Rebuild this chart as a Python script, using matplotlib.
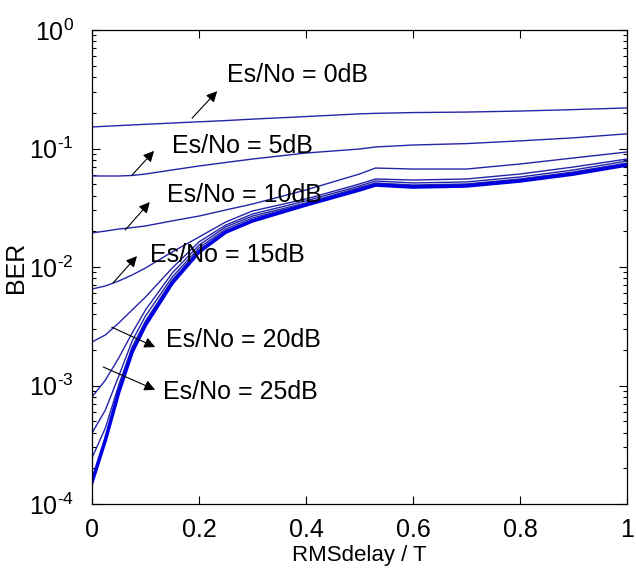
import matplotlib
matplotlib.use("Agg")
import matplotlib.pyplot as plt
from matplotlib.ticker import LogLocator, FixedLocator, FuncFormatter
import math

plt.rcParams['font.family'] = ['Liberation Sans', 'DejaVu Sans']
plt.rcParams['mathtext.fontset'] = 'custom'
plt.rcParams['mathtext.rm'] = 'Liberation Sans'
plt.rcParams['mathtext.it'] = 'Liberation Sans'
plt.rcParams['mathtext.default'] = 'regular'

# RMS delay spread normalised to symbol period
rms_delay = [0, 0.025, 0.05, 0.075, 0.1, 0.15, 0.2, 0.25, 0.3, 0.4, 0.5, 0.53,
             0.6, 0.7, 0.8, 0.9, 1.0]

ber_0db = [0.152, 0.154, 0.156, 0.158, 0.160, 0.164, 0.168, 0.172, 0.177, 0.186,
           0.196, 0.198, 0.201, 0.203, 0.207, 0.213, 0.220]
ber_5db = [0.0586, 0.0586, 0.0586, 0.0592, 0.0609, 0.0659, 0.0712, 0.0762, 0.0815,
           0.0916, 0.0990, 0.103, 0.107, 0.110, 0.116, 0.123, 0.133]
ber_10db = [0.0194, 0.0201, 0.0209, 0.0215, 0.0222, 0.0245, 0.0269, 0.0303, 0.0340,
            0.0447, 0.0609, 0.0684, 0.0671, 0.0671, 0.0740, 0.0832, 0.0934]
ber_15db = [0.00652, 0.00692, 0.00762, 0.00856, 0.00981, 0.0134, 0.0179, 0.0240,
            0.0297, 0.0375, 0.0502, 0.0553, 0.0542, 0.0553, 0.0609, 0.0698, 0.0815]
ber_20db = [0.00233, 0.00267, 0.00337, 0.00434, 0.00558, 0.00981, 0.0163, 0.0226,
            0.0280, 0.0361, 0.0483, 0.0532, 0.0512, 0.0522, 0.0575, 0.0659, 0.0784]
ber_25db = [0.000800, 0.00111, 0.00171, 0.00277, 0.00434, 0.00890, 0.0153, 0.0218,
            0.0269, 0.0347, 0.0469, 0.0512, 0.0492, 0.0502, 0.0553, 0.0634, 0.0754]
ber_30db = [0.000397, 0.000621, 0.00120, 0.00237, 0.00386, 0.00823, 0.0145, 0.0209,
            0.0259, 0.0340, 0.0455, 0.0502, 0.0483, 0.0492, 0.0542, 0.0621, 0.0740]
ber_35db = [0.000245, 0.000438, 0.00101, 0.00211, 0.00350, 0.00777, 0.0139, 0.0201,
            0.0249, 0.0337, 0.0451, 0.0497, 0.0478, 0.0487, 0.0537, 0.0615, 0.0733]
ber_40db = [0.000153, 0.000347, 0.000881, 0.00192, 0.00324, 0.00733, 0.0134, 0.0197,
            0.0245, 0.0334, 0.0447, 0.0492, 0.0473, 0.0483, 0.0532, 0.0609, 0.0726]

thin_series = [ber_0db, ber_5db, ber_10db, ber_15db, ber_20db, ber_25db, ber_30db, ber_35db]
thick_series = [ber_40db]

labels = ["Es/No = 0dB", "Es/No = 5dB", "Es/No = 10dB", "Es/No = 15dB",
          "Es/No = 20dB", "Es/No = 25dB"]

x_ticks = [0, 0.2, 0.4, 0.6, 0.8, 1.0]
x_tick_labels = ["0", "0.2", "0.4", "0.6", "0.8", "1"]

fig = plt.figure(figsize=(6.36, 5.71), dpi=100)
ax = fig.add_axes([92 / 636, 67 / 571, 535 / 636, 474 / 571])

for s in thin_series:
    ax.plot(rms_delay, s, color='#2424a8', lw=1.0)
for s in thick_series:
    ax.plot(rms_delay, s, color='#0000e0', lw=2.6)

ax.set_yscale('log')
ax.set_xlim(0, 1)
ax.set_ylim(1e-4, 1e0)
ax.xaxis.set_major_locator(FixedLocator(x_ticks))
ax.set_xticklabels(x_tick_labels)
ax.yaxis.set_major_locator(LogLocator(base=10, numticks=10))
ax.yaxis.set_minor_locator(LogLocator(base=10, subs=range(2, 10), numticks=20))
ax.yaxis.set_minor_formatter(plt.NullFormatter())


def pow_fmt(v, pos):
    e = int(round(math.log10(v)))
    if e < 0:
        return r"$10^{\text{-}%d}$" % (-e)
    return r"$10^{%d}$" % e


ax.yaxis.set_major_formatter(FuncFormatter(pow_fmt))

ax.tick_params(which='both', direction='in', top=True, right=True,
               labelsize=18, width=0.8)
ax.tick_params(which='major', length=6)
ax.tick_params(which='minor', length=3)
ax.tick_params(axis='x', pad=10)
ax.tick_params(axis='y', pad=13)
for sp in ax.spines.values():
    sp.set_linewidth(0.9)

ax.set_xlabel("RMSdelay / T", fontsize=16, labelpad=2)
ax.set_ylabel("BER", fontsize=18)
ax.yaxis.set_label_coords((28 - 92) / 535, 0.5)

# annotations: (text pos, arrow tail, arrow head) in axes fraction
ann = [
    ((0.252, 0.905), (0.187, 0.814), (0.234, 0.871)),
    ((0.150, 0.755), (0.075, 0.694), (0.116, 0.745)),
    ((0.140, 0.652), (0.062, 0.578), (0.108, 0.637)),
    ((0.108, 0.525), (0.039, 0.466), (0.084, 0.523)),
    ((0.138, 0.346), (0.037, 0.373), (0.118, 0.331)),
    ((0.133, 0.236), (0.021, 0.289), (0.118, 0.241)),
]
for lab, (tp, tail, head) in zip(labels, ann):
    ax.text(tp[0], tp[1], lab, transform=ax.transAxes, fontsize=18,
            ha='left', va='center')
    ax.annotate("", xy=head, xycoords='axes fraction', xytext=tail,
                textcoords='axes fraction',
                arrowprops=dict(arrowstyle='-|>', color='k', lw=0.8,
                                mutation_scale=16, shrinkA=0, shrinkB=0))

fig.savefig("out.png", dpi=100)
